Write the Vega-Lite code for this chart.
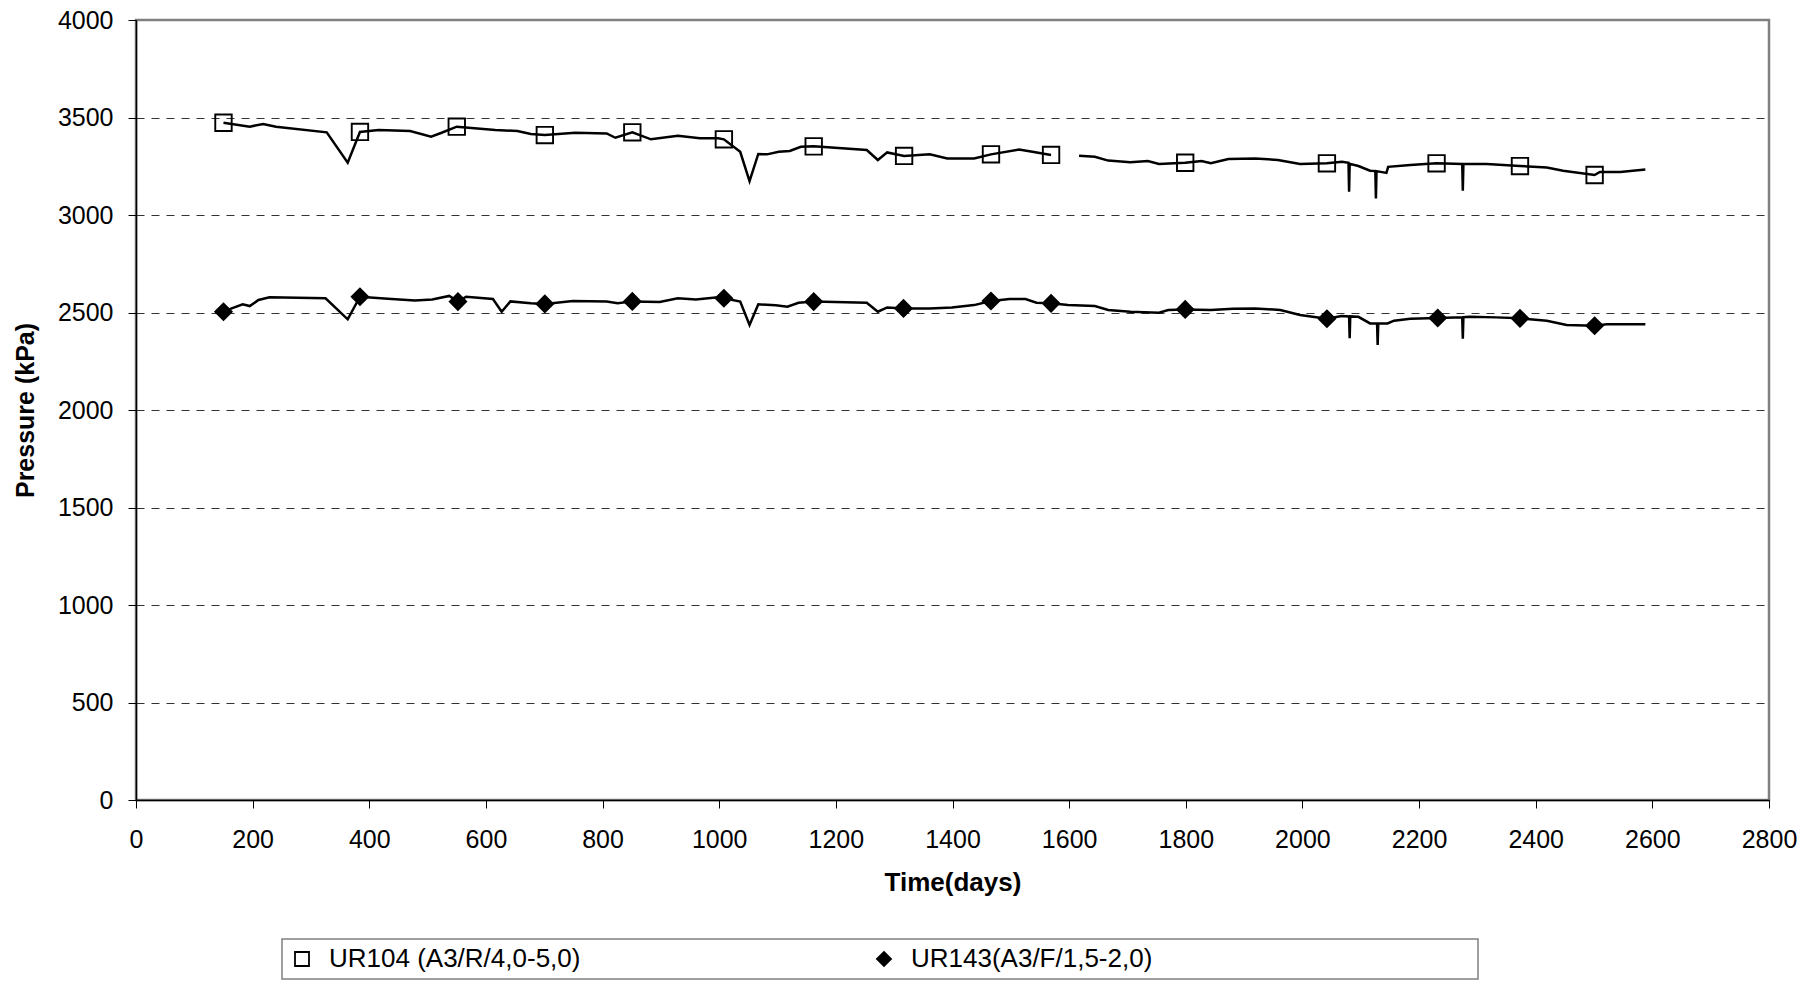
{
  "$schema": "https://vega.github.io/schema/vega-lite/v6.json",
  "width": 1633,
  "height": 780,
  "autosize": {"type": "none"},
  "padding": {"left": 136, "top": 20, "right": 51, "bottom": 185},
  "background": "white",
  "config": {
    "font": "Liberation Sans",
    "view": {"stroke": "#808080", "strokeWidth": 2.5},
    "legend": {
      "orient": "none",
      "legendX": 146,
      "legendY": 919,
      "direction": "horizontal",
      "columns": 2,
      "strokeColor": "#808080",
      "strokeWidth": 1.5,
      "padding": 7,
      "symbolSize": 196,
      "symbolStrokeWidth": 1.8,
      "labelFont": "Liberation Sans",
      "labelFontSize": 26,
      "labelColor": "black",
      "labelLimit": 3000,
      "labelOffset": 14,
      "columnPadding": 290
    }
  },
  "datasets": {
    "line": [
      {"series": "UR104 (A3/R/4,0-5,0)", "seg": "A1", "day": 150, "kPa": 3473},
      {"series": "UR104 (A3/R/4,0-5,0)", "seg": "A1", "day": 195, "kPa": 3453},
      {"series": "UR104 (A3/R/4,0-5,0)", "seg": "A1", "day": 218, "kPa": 3467},
      {"series": "UR104 (A3/R/4,0-5,0)", "seg": "A1", "day": 240, "kPa": 3453},
      {"series": "UR104 (A3/R/4,0-5,0)", "seg": "A1", "day": 327, "kPa": 3424},
      {"series": "UR104 (A3/R/4,0-5,0)", "seg": "A1", "day": 363, "kPa": 3268},
      {"series": "UR104 (A3/R/4,0-5,0)", "seg": "A1", "day": 384, "kPa": 3426},
      {"series": "UR104 (A3/R/4,0-5,0)", "seg": "A1", "day": 416, "kPa": 3436},
      {"series": "UR104 (A3/R/4,0-5,0)", "seg": "A1", "day": 470, "kPa": 3431},
      {"series": "UR104 (A3/R/4,0-5,0)", "seg": "A1", "day": 506, "kPa": 3402},
      {"series": "UR104 (A3/R/4,0-5,0)", "seg": "A1", "day": 524, "kPa": 3422},
      {"series": "UR104 (A3/R/4,0-5,0)", "seg": "A1", "day": 550, "kPa": 3453},
      {"series": "UR104 (A3/R/4,0-5,0)", "seg": "A1", "day": 616, "kPa": 3436},
      {"series": "UR104 (A3/R/4,0-5,0)", "seg": "A1", "day": 654, "kPa": 3431},
      {"series": "UR104 (A3/R/4,0-5,0)", "seg": "A1", "day": 677, "kPa": 3415},
      {"series": "UR104 (A3/R/4,0-5,0)", "seg": "A1", "day": 701, "kPa": 3410},
      {"series": "UR104 (A3/R/4,0-5,0)", "seg": "A1", "day": 753, "kPa": 3422},
      {"series": "UR104 (A3/R/4,0-5,0)", "seg": "A1", "day": 807, "kPa": 3418},
      {"series": "UR104 (A3/R/4,0-5,0)", "seg": "A1", "day": 822, "kPa": 3396},
      {"series": "UR104 (A3/R/4,0-5,0)", "seg": "A1", "day": 851, "kPa": 3424},
      {"series": "UR104 (A3/R/4,0-5,0)", "seg": "A1", "day": 883, "kPa": 3388},
      {"series": "UR104 (A3/R/4,0-5,0)", "seg": "A1", "day": 929, "kPa": 3406},
      {"series": "UR104 (A3/R/4,0-5,0)", "seg": "A1", "day": 967, "kPa": 3393},
      {"series": "UR104 (A3/R/4,0-5,0)", "seg": "A1", "day": 998, "kPa": 3393},
      {"series": "UR104 (A3/R/4,0-5,0)", "seg": "A1", "day": 1008, "kPa": 3388},
      {"series": "UR104 (A3/R/4,0-5,0)", "seg": "A1", "day": 1036, "kPa": 3324},
      {"series": "UR104 (A3/R/4,0-5,0)", "seg": "A1", "day": 1052, "kPa": 3174},
      {"series": "UR104 (A3/R/4,0-5,0)", "seg": "A1", "day": 1067, "kPa": 3313},
      {"series": "UR104 (A3/R/4,0-5,0)", "seg": "A1", "day": 1082, "kPa": 3311},
      {"series": "UR104 (A3/R/4,0-5,0)", "seg": "A1", "day": 1102, "kPa": 3324},
      {"series": "UR104 (A3/R/4,0-5,0)", "seg": "A1", "day": 1121, "kPa": 3328},
      {"series": "UR104 (A3/R/4,0-5,0)", "seg": "A1", "day": 1140, "kPa": 3350},
      {"series": "UR104 (A3/R/4,0-5,0)", "seg": "A1", "day": 1162, "kPa": 3352},
      {"series": "UR104 (A3/R/4,0-5,0)", "seg": "A1", "day": 1253, "kPa": 3333},
      {"series": "UR104 (A3/R/4,0-5,0)", "seg": "A1", "day": 1272, "kPa": 3282},
      {"series": "UR104 (A3/R/4,0-5,0)", "seg": "A1", "day": 1288, "kPa": 3321},
      {"series": "UR104 (A3/R/4,0-5,0)", "seg": "A1", "day": 1317, "kPa": 3303},
      {"series": "UR104 (A3/R/4,0-5,0)", "seg": "A1", "day": 1361, "kPa": 3311},
      {"series": "UR104 (A3/R/4,0-5,0)", "seg": "A1", "day": 1391, "kPa": 3290},
      {"series": "UR104 (A3/R/4,0-5,0)", "seg": "A1", "day": 1437, "kPa": 3290},
      {"series": "UR104 (A3/R/4,0-5,0)", "seg": "A1", "day": 1466, "kPa": 3311},
      {"series": "UR104 (A3/R/4,0-5,0)", "seg": "A1", "day": 1514, "kPa": 3336},
      {"series": "UR104 (A3/R/4,0-5,0)", "seg": "A1", "day": 1537, "kPa": 3324},
      {"series": "UR104 (A3/R/4,0-5,0)", "seg": "A1", "day": 1569, "kPa": 3308},
      {"series": "UR104 (A3/R/4,0-5,0)", "seg": "A2", "day": 1617, "kPa": 3304},
      {"series": "UR104 (A3/R/4,0-5,0)", "seg": "A2", "day": 1644, "kPa": 3299},
      {"series": "UR104 (A3/R/4,0-5,0)", "seg": "A2", "day": 1667, "kPa": 3279},
      {"series": "UR104 (A3/R/4,0-5,0)", "seg": "A2", "day": 1705, "kPa": 3270},
      {"series": "UR104 (A3/R/4,0-5,0)", "seg": "A2", "day": 1735, "kPa": 3277},
      {"series": "UR104 (A3/R/4,0-5,0)", "seg": "A2", "day": 1754, "kPa": 3262},
      {"series": "UR104 (A3/R/4,0-5,0)", "seg": "A2", "day": 1799, "kPa": 3268},
      {"series": "UR104 (A3/R/4,0-5,0)", "seg": "A2", "day": 1827, "kPa": 3277},
      {"series": "UR104 (A3/R/4,0-5,0)", "seg": "A2", "day": 1843, "kPa": 3265},
      {"series": "UR104 (A3/R/4,0-5,0)", "seg": "A2", "day": 1873, "kPa": 3287},
      {"series": "UR104 (A3/R/4,0-5,0)", "seg": "A2", "day": 1919, "kPa": 3290},
      {"series": "UR104 (A3/R/4,0-5,0)", "seg": "A2", "day": 1958, "kPa": 3282},
      {"series": "UR104 (A3/R/4,0-5,0)", "seg": "A2", "day": 1996, "kPa": 3262},
      {"series": "UR104 (A3/R/4,0-5,0)", "seg": "A2", "day": 2042, "kPa": 3265},
      {"series": "UR104 (A3/R/4,0-5,0)", "seg": "A2", "day": 2068, "kPa": 3273},
      {"series": "UR104 (A3/R/4,0-5,0)", "seg": "A2", "day": 2079, "kPa": 3268},
      {"series": "UR104 (A3/R/4,0-5,0)", "seg": "A2", "day": 2080, "kPa": 3119},
      {"series": "UR104 (A3/R/4,0-5,0)", "seg": "A2", "day": 2081, "kPa": 3262},
      {"series": "UR104 (A3/R/4,0-5,0)", "seg": "A2", "day": 2096, "kPa": 3251},
      {"series": "UR104 (A3/R/4,0-5,0)", "seg": "A2", "day": 2116, "kPa": 3227},
      {"series": "UR104 (A3/R/4,0-5,0)", "seg": "A2", "day": 2125, "kPa": 3225},
      {"series": "UR104 (A3/R/4,0-5,0)", "seg": "A2", "day": 2126, "kPa": 3085},
      {"series": "UR104 (A3/R/4,0-5,0)", "seg": "A2", "day": 2127, "kPa": 3225},
      {"series": "UR104 (A3/R/4,0-5,0)", "seg": "A2", "day": 2144, "kPa": 3216},
      {"series": "UR104 (A3/R/4,0-5,0)", "seg": "A2", "day": 2147, "kPa": 3247},
      {"series": "UR104 (A3/R/4,0-5,0)", "seg": "A2", "day": 2185, "kPa": 3256},
      {"series": "UR104 (A3/R/4,0-5,0)", "seg": "A2", "day": 2230, "kPa": 3265},
      {"series": "UR104 (A3/R/4,0-5,0)", "seg": "A2", "day": 2274, "kPa": 3262},
      {"series": "UR104 (A3/R/4,0-5,0)", "seg": "A2", "day": 2275, "kPa": 3124},
      {"series": "UR104 (A3/R/4,0-5,0)", "seg": "A2", "day": 2276, "kPa": 3262},
      {"series": "UR104 (A3/R/4,0-5,0)", "seg": "A2", "day": 2316, "kPa": 3262},
      {"series": "UR104 (A3/R/4,0-5,0)", "seg": "A2", "day": 2373, "kPa": 3251},
      {"series": "UR104 (A3/R/4,0-5,0)", "seg": "A2", "day": 2419, "kPa": 3244},
      {"series": "UR104 (A3/R/4,0-5,0)", "seg": "A2", "day": 2447, "kPa": 3227},
      {"series": "UR104 (A3/R/4,0-5,0)", "seg": "A2", "day": 2501, "kPa": 3205},
      {"series": "UR104 (A3/R/4,0-5,0)", "seg": "A2", "day": 2510, "kPa": 3221},
      {"series": "UR104 (A3/R/4,0-5,0)", "seg": "A2", "day": 2545, "kPa": 3221},
      {"series": "UR104 (A3/R/4,0-5,0)", "seg": "A2", "day": 2588, "kPa": 3233},
      {"series": "UR143(A3/F/1,5-2,0)", "seg": "B1", "day": 150, "kPa": 2504},
      {"series": "UR143(A3/F/1,5-2,0)", "seg": "B1", "day": 164, "kPa": 2521},
      {"series": "UR143(A3/F/1,5-2,0)", "seg": "B1", "day": 183, "kPa": 2542},
      {"series": "UR143(A3/F/1,5-2,0)", "seg": "B1", "day": 195, "kPa": 2533},
      {"series": "UR143(A3/F/1,5-2,0)", "seg": "B1", "day": 210, "kPa": 2564},
      {"series": "UR143(A3/F/1,5-2,0)", "seg": "B1", "day": 229, "kPa": 2578},
      {"series": "UR143(A3/F/1,5-2,0)", "seg": "B1", "day": 325, "kPa": 2573},
      {"series": "UR143(A3/F/1,5-2,0)", "seg": "B1", "day": 363, "kPa": 2465},
      {"series": "UR143(A3/F/1,5-2,0)", "seg": "B1", "day": 384, "kPa": 2581},
      {"series": "UR143(A3/F/1,5-2,0)", "seg": "B1", "day": 432, "kPa": 2571},
      {"series": "UR143(A3/F/1,5-2,0)", "seg": "B1", "day": 478, "kPa": 2562},
      {"series": "UR143(A3/F/1,5-2,0)", "seg": "B1", "day": 508, "kPa": 2567},
      {"series": "UR143(A3/F/1,5-2,0)", "seg": "B1", "day": 537, "kPa": 2585},
      {"series": "UR143(A3/F/1,5-2,0)", "seg": "B1", "day": 552, "kPa": 2556},
      {"series": "UR143(A3/F/1,5-2,0)", "seg": "B1", "day": 566, "kPa": 2581},
      {"series": "UR143(A3/F/1,5-2,0)", "seg": "B1", "day": 612, "kPa": 2569},
      {"series": "UR143(A3/F/1,5-2,0)", "seg": "B1", "day": 627, "kPa": 2504},
      {"series": "UR143(A3/F/1,5-2,0)", "seg": "B1", "day": 642, "kPa": 2557},
      {"series": "UR143(A3/F/1,5-2,0)", "seg": "B1", "day": 677, "kPa": 2547},
      {"series": "UR143(A3/F/1,5-2,0)", "seg": "B1", "day": 701, "kPa": 2544},
      {"series": "UR143(A3/F/1,5-2,0)", "seg": "B1", "day": 749, "kPa": 2559},
      {"series": "UR143(A3/F/1,5-2,0)", "seg": "B1", "day": 807, "kPa": 2556},
      {"series": "UR143(A3/F/1,5-2,0)", "seg": "B1", "day": 826, "kPa": 2547},
      {"series": "UR143(A3/F/1,5-2,0)", "seg": "B1", "day": 851, "kPa": 2557},
      {"series": "UR143(A3/F/1,5-2,0)", "seg": "B1", "day": 898, "kPa": 2554},
      {"series": "UR143(A3/F/1,5-2,0)", "seg": "B1", "day": 929, "kPa": 2573},
      {"series": "UR143(A3/F/1,5-2,0)", "seg": "B1", "day": 960, "kPa": 2567},
      {"series": "UR143(A3/F/1,5-2,0)", "seg": "B1", "day": 998, "kPa": 2578},
      {"series": "UR143(A3/F/1,5-2,0)", "seg": "B1", "day": 1008, "kPa": 2573},
      {"series": "UR143(A3/F/1,5-2,0)", "seg": "B1", "day": 1036, "kPa": 2556},
      {"series": "UR143(A3/F/1,5-2,0)", "seg": "B1", "day": 1052, "kPa": 2436},
      {"series": "UR143(A3/F/1,5-2,0)", "seg": "B1", "day": 1067, "kPa": 2542},
      {"series": "UR143(A3/F/1,5-2,0)", "seg": "B1", "day": 1097, "kPa": 2537},
      {"series": "UR143(A3/F/1,5-2,0)", "seg": "B1", "day": 1117, "kPa": 2530},
      {"series": "UR143(A3/F/1,5-2,0)", "seg": "B1", "day": 1136, "kPa": 2550},
      {"series": "UR143(A3/F/1,5-2,0)", "seg": "B1", "day": 1162, "kPa": 2556},
      {"series": "UR143(A3/F/1,5-2,0)", "seg": "B1", "day": 1253, "kPa": 2550},
      {"series": "UR143(A3/F/1,5-2,0)", "seg": "B1", "day": 1272, "kPa": 2504},
      {"series": "UR143(A3/F/1,5-2,0)", "seg": "B1", "day": 1288, "kPa": 2526},
      {"series": "UR143(A3/F/1,5-2,0)", "seg": "B1", "day": 1316, "kPa": 2521},
      {"series": "UR143(A3/F/1,5-2,0)", "seg": "B1", "day": 1361, "kPa": 2521},
      {"series": "UR143(A3/F/1,5-2,0)", "seg": "B1", "day": 1399, "kPa": 2526},
      {"series": "UR143(A3/F/1,5-2,0)", "seg": "B1", "day": 1437, "kPa": 2538},
      {"series": "UR143(A3/F/1,5-2,0)", "seg": "B1", "day": 1466, "kPa": 2559},
      {"series": "UR143(A3/F/1,5-2,0)", "seg": "B1", "day": 1498, "kPa": 2569},
      {"series": "UR143(A3/F/1,5-2,0)", "seg": "B1", "day": 1525, "kPa": 2569},
      {"series": "UR143(A3/F/1,5-2,0)", "seg": "B1", "day": 1544, "kPa": 2550},
      {"series": "UR143(A3/F/1,5-2,0)", "seg": "B1", "day": 1569, "kPa": 2547},
      {"series": "UR143(A3/F/1,5-2,0)", "seg": "B1", "day": 1598, "kPa": 2538},
      {"series": "UR143(A3/F/1,5-2,0)", "seg": "B1", "day": 1644, "kPa": 2533},
      {"series": "UR143(A3/F/1,5-2,0)", "seg": "B1", "day": 1667, "kPa": 2513},
      {"series": "UR143(A3/F/1,5-2,0)", "seg": "B1", "day": 1705, "kPa": 2504},
      {"series": "UR143(A3/F/1,5-2,0)", "seg": "B1", "day": 1754, "kPa": 2499},
      {"series": "UR143(A3/F/1,5-2,0)", "seg": "B1", "day": 1770, "kPa": 2513},
      {"series": "UR143(A3/F/1,5-2,0)", "seg": "B1", "day": 1799, "kPa": 2516},
      {"series": "UR143(A3/F/1,5-2,0)", "seg": "B1", "day": 1843, "kPa": 2513},
      {"series": "UR143(A3/F/1,5-2,0)", "seg": "B1", "day": 1881, "kPa": 2519},
      {"series": "UR143(A3/F/1,5-2,0)", "seg": "B1", "day": 1919, "kPa": 2521},
      {"series": "UR143(A3/F/1,5-2,0)", "seg": "B1", "day": 1962, "kPa": 2513},
      {"series": "UR143(A3/F/1,5-2,0)", "seg": "B1", "day": 1996, "kPa": 2487},
      {"series": "UR143(A3/F/1,5-2,0)", "seg": "B1", "day": 2042, "kPa": 2468},
      {"series": "UR143(A3/F/1,5-2,0)", "seg": "B1", "day": 2067, "kPa": 2482},
      {"series": "UR143(A3/F/1,5-2,0)", "seg": "B1", "day": 2080, "kPa": 2480},
      {"series": "UR143(A3/F/1,5-2,0)", "seg": "B1", "day": 2081, "kPa": 2368},
      {"series": "UR143(A3/F/1,5-2,0)", "seg": "B1", "day": 2082, "kPa": 2480},
      {"series": "UR143(A3/F/1,5-2,0)", "seg": "B1", "day": 2096, "kPa": 2478},
      {"series": "UR143(A3/F/1,5-2,0)", "seg": "B1", "day": 2116, "kPa": 2444},
      {"series": "UR143(A3/F/1,5-2,0)", "seg": "B1", "day": 2128, "kPa": 2444},
      {"series": "UR143(A3/F/1,5-2,0)", "seg": "B1", "day": 2129, "kPa": 2333},
      {"series": "UR143(A3/F/1,5-2,0)", "seg": "B1", "day": 2130, "kPa": 2444},
      {"series": "UR143(A3/F/1,5-2,0)", "seg": "B1", "day": 2146, "kPa": 2444},
      {"series": "UR143(A3/F/1,5-2,0)", "seg": "B1", "day": 2157, "kPa": 2458},
      {"series": "UR143(A3/F/1,5-2,0)", "seg": "B1", "day": 2185, "kPa": 2468},
      {"series": "UR143(A3/F/1,5-2,0)", "seg": "B1", "day": 2232, "kPa": 2472},
      {"series": "UR143(A3/F/1,5-2,0)", "seg": "B1", "day": 2274, "kPa": 2476},
      {"series": "UR143(A3/F/1,5-2,0)", "seg": "B1", "day": 2275, "kPa": 2365},
      {"series": "UR143(A3/F/1,5-2,0)", "seg": "B1", "day": 2276, "kPa": 2476},
      {"series": "UR143(A3/F/1,5-2,0)", "seg": "B1", "day": 2287, "kPa": 2478},
      {"series": "UR143(A3/F/1,5-2,0)", "seg": "B1", "day": 2332, "kPa": 2475},
      {"series": "UR143(A3/F/1,5-2,0)", "seg": "B1", "day": 2373, "kPa": 2470},
      {"series": "UR143(A3/F/1,5-2,0)", "seg": "B1", "day": 2419, "kPa": 2458},
      {"series": "UR143(A3/F/1,5-2,0)", "seg": "B1", "day": 2453, "kPa": 2436},
      {"series": "UR143(A3/F/1,5-2,0)", "seg": "B1", "day": 2501, "kPa": 2432},
      {"series": "UR143(A3/F/1,5-2,0)", "seg": "B1", "day": 2522, "kPa": 2440},
      {"series": "UR143(A3/F/1,5-2,0)", "seg": "B1", "day": 2588, "kPa": 2440}
    ],
    "markers": [
      {"series": "UR104 (A3/R/4,0-5,0)", "day": 150, "kPa": 3473},
      {"series": "UR104 (A3/R/4,0-5,0)", "day": 384, "kPa": 3426},
      {"series": "UR104 (A3/R/4,0-5,0)", "day": 550, "kPa": 3453},
      {"series": "UR104 (A3/R/4,0-5,0)", "day": 701, "kPa": 3410},
      {"series": "UR104 (A3/R/4,0-5,0)", "day": 851, "kPa": 3424},
      {"series": "UR104 (A3/R/4,0-5,0)", "day": 1008, "kPa": 3388},
      {"series": "UR104 (A3/R/4,0-5,0)", "day": 1162, "kPa": 3352},
      {"series": "UR104 (A3/R/4,0-5,0)", "day": 1317, "kPa": 3303},
      {"series": "UR104 (A3/R/4,0-5,0)", "day": 1466, "kPa": 3311},
      {"series": "UR104 (A3/R/4,0-5,0)", "day": 1569, "kPa": 3308},
      {"series": "UR104 (A3/R/4,0-5,0)", "day": 1799, "kPa": 3268},
      {"series": "UR104 (A3/R/4,0-5,0)", "day": 2042, "kPa": 3265},
      {"series": "UR104 (A3/R/4,0-5,0)", "day": 2230, "kPa": 3265},
      {"series": "UR104 (A3/R/4,0-5,0)", "day": 2373, "kPa": 3251},
      {"series": "UR104 (A3/R/4,0-5,0)", "day": 2501, "kPa": 3205},
      {"series": "UR143(A3/F/1,5-2,0)", "day": 150, "kPa": 2504},
      {"series": "UR143(A3/F/1,5-2,0)", "day": 384, "kPa": 2581},
      {"series": "UR143(A3/F/1,5-2,0)", "day": 552, "kPa": 2556},
      {"series": "UR143(A3/F/1,5-2,0)", "day": 701, "kPa": 2544},
      {"series": "UR143(A3/F/1,5-2,0)", "day": 851, "kPa": 2557},
      {"series": "UR143(A3/F/1,5-2,0)", "day": 1008, "kPa": 2573},
      {"series": "UR143(A3/F/1,5-2,0)", "day": 1162, "kPa": 2556},
      {"series": "UR143(A3/F/1,5-2,0)", "day": 1316, "kPa": 2521},
      {"series": "UR143(A3/F/1,5-2,0)", "day": 1466, "kPa": 2559},
      {"series": "UR143(A3/F/1,5-2,0)", "day": 1569, "kPa": 2547},
      {"series": "UR143(A3/F/1,5-2,0)", "day": 1799, "kPa": 2516},
      {"series": "UR143(A3/F/1,5-2,0)", "day": 2042, "kPa": 2468},
      {"series": "UR143(A3/F/1,5-2,0)", "day": 2232, "kPa": 2472},
      {"series": "UR143(A3/F/1,5-2,0)", "day": 2373, "kPa": 2470},
      {"series": "UR143(A3/F/1,5-2,0)", "day": 2501, "kPa": 2432}
    ]
  },
  "layer": [
    {
      "data": {"name": "line"},
      "mark": {"type": "line", "color": "black", "strokeWidth": 2.5},
      "encoding": {
        "x": {
          "field": "day",
          "type": "quantitative",
          "scale": {"domain": [0, 2800], "nice": false, "zero": false},
          "axis": {
            "title": "Time(days)",
            "values": [0, 200, 400, 600, 800, 1000, 1200, 1400, 1600, 1800, 2000, 2200, 2400, 2600, 2800],
            "format": "d",
            "grid": false,
            "tickSize": 8,
            "tickColor": "black",
            "tickWidth": 1,
            "domainColor": "black",
            "domainWidth": 1.5,
            "labelFont": "Liberation Sans",
            "labelFontSize": 25,
            "labelColor": "black",
            "labelPadding": 19,
            "labelFlush": false,
            "labelOverlap": false,
            "titleFont": "Liberation Sans",
            "titleFontSize": 26,
            "titleFontWeight": "bold",
            "titleColor": "black",
            "titlePadding": 17
          }
        },
        "y": {
          "field": "kPa",
          "type": "quantitative",
          "scale": {"domain": [0, 4000], "nice": false},
          "axis": {
            "title": "Pressure (kPa)",
            "values": [0, 500, 1000, 1500, 2000, 2500, 3000, 3500, 4000],
            "format": "d",
            "grid": true,
            "gridDash": [8, 7],
            "gridColor": {"condition": {"test": "datum.value > 0 && datum.value < 4000", "value": "#333333"}, "value": "transparent"},
            "gridWidth": 1,
            "tickSize": 8,
            "tickColor": "black",
            "tickWidth": 1,
            "domainColor": "black",
            "domainWidth": 1.5,
            "labelFont": "Liberation Sans",
            "labelFontSize": 25,
            "labelColor": "black",
            "labelPadding": 15,
            "labelFlush": false,
            "labelOverlap": false,
            "titleFont": "Liberation Sans",
            "titleFontSize": 25,
            "titleFontWeight": "bold",
            "titleColor": "black",
            "titlePadding": 19
          }
        },
        "detail": {"field": "seg", "type": "nominal"}
      }
    },
    {
      "data": {"name": "markers"},
      "mark": {"type": "point", "filled": true, "strokeWidth": 1.9, "size": 270, "opacity": 1},
      "encoding": {
        "x": {"field": "day", "type": "quantitative"},
        "y": {"field": "kPa", "type": "quantitative"},
        "shape": {
          "field": "series",
          "type": "nominal",
          "scale": {"domain": ["UR104 (A3/R/4,0-5,0)", "UR143(A3/F/1,5-2,0)"], "range": ["square", "diamond"]},
          "legend": {"title": null, "labelExpr": "datum.label == 'UR143(A3/F/1,5-2,0)' ? pad(datum.label, 63, '\u00a0') + '\u2060' : datum.label"}
        },
        "fill": {
          "field": "series",
          "type": "nominal",
          "scale": {"domain": ["UR104 (A3/R/4,0-5,0)", "UR143(A3/F/1,5-2,0)"], "range": ["transparent", "black"]},
          "legend": {"title": null, "labelExpr": "datum.label == 'UR143(A3/F/1,5-2,0)' ? pad(datum.label, 63, '\u00a0') + '\u2060' : datum.label"}
        },
        "stroke": {
          "field": "series",
          "type": "nominal",
          "scale": {"domain": ["UR104 (A3/R/4,0-5,0)", "UR143(A3/F/1,5-2,0)"], "range": ["black", "black"]},
          "legend": {"title": null, "labelExpr": "datum.label == 'UR143(A3/F/1,5-2,0)' ? pad(datum.label, 63, '\u00a0') + '\u2060' : datum.label"}
        }
      }
    }
  ]
}
